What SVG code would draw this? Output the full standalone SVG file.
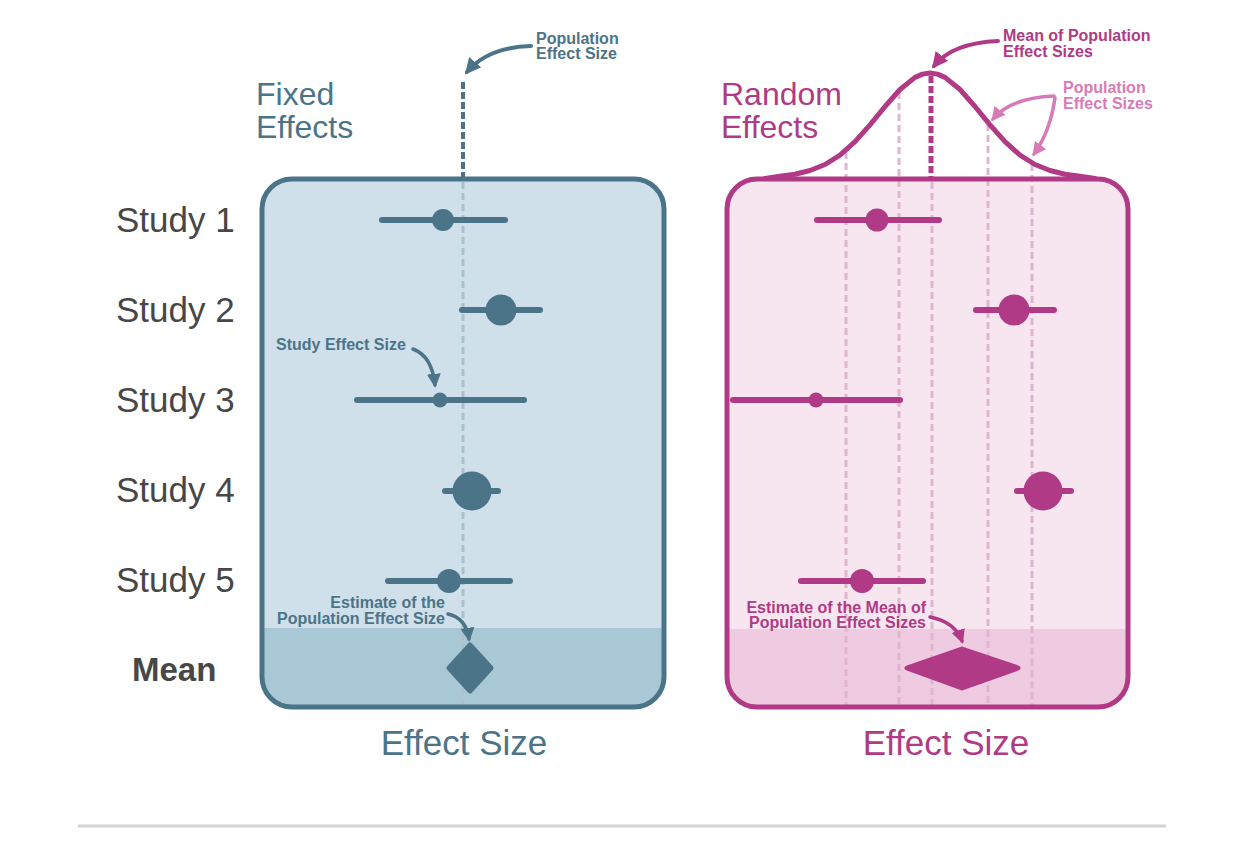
<svg xmlns="http://www.w3.org/2000/svg" width="1242" height="852" viewBox="0 0 1242 852">
<style>
.lbl{font-family:"Liberation Sans",Arial,sans-serif;font-size:35px;fill:#474747}
.meanlbl{font-family:"Liberation Sans",Arial,sans-serif;font-size:33px;font-weight:bold;fill:#474747}
.title{font-family:"Liberation Sans",Arial,sans-serif;font-size:32px}
.axis{font-family:"Liberation Sans",Arial,sans-serif;font-size:35px;text-anchor:middle}
.note{font-family:"Liberation Sans",Arial,sans-serif;font-size:16px;font-weight:bold}
.blue{fill:#4b7489}
.pink{fill:#b03a85}
.lpink{fill:#d77bb8}
.bbar{stroke:#4b7489;stroke-width:6;stroke-linecap:round;fill:none}
.pbar{stroke:#b03a85;stroke-width:6;stroke-linecap:round;fill:none}
.bdash{stroke:#a9c1cd;stroke-width:3;stroke-dasharray:7 4;fill:none}
.pdash{stroke:#dfb5cf;stroke-width:3;stroke-dasharray:7 4;fill:none}
</style>
<defs>
<marker id="ahB" viewBox="0 0 10 10" refX="8" refY="5" markerWidth="4" markerHeight="4" orient="auto" markerUnits="strokeWidth"><path d="M0,0 L10,5 L0,10 Z" fill="#4b7489"/></marker>
<marker id="ahP" viewBox="0 0 10 10" refX="8" refY="5" markerWidth="4" markerHeight="4" orient="auto" markerUnits="strokeWidth"><path d="M0,0 L10,5 L0,10 Z" fill="#b03a85"/></marker>
<marker id="ahL" viewBox="0 0 10 10" refX="8" refY="5" markerWidth="4" markerHeight="4" orient="auto" markerUnits="strokeWidth"><path d="M0,0 L10,5 L0,10 Z" fill="#d77bb8"/></marker>
</defs>
<rect width="1242" height="852" fill="#ffffff"/>

<g id="row-labels">
<text class="lbl" x="116" y="232">Study 1</text>
<text class="lbl" x="116" y="322">Study 2</text>
<text class="lbl" x="116" y="412">Study 3</text>
<text class="lbl" x="116" y="502">Study 4</text>
<text class="lbl" x="116" y="592">Study 5</text>
<text class="meanlbl" x="132" y="681">Mean</text>
</g>

<g id="fixed-panel">
<text class="title blue" x="256" y="105">Fixed</text>
<text class="title blue" x="256" y="138">Effects</text>
<rect x="262" y="179" width="402" height="528" rx="30" fill="#cfe0ea"/>
<path d="M262,628 H664 V677 A30,30 0 0 1 634,707 H292 A30,30 0 0 1 262,677 Z" fill="#a9c8d5"/>
<line class="bdash" x1="463" y1="182" x2="463" y2="705"/>
<line x1="463" y1="82" x2="463" y2="178" stroke="#4b7489" stroke-width="4" stroke-dasharray="7 3"/>
<g id="fixed-study1"><line class="bbar" x1="382" y1="220" x2="505" y2="220"/><circle cx="443" cy="220" r="11" fill="#4b7489"/></g>
<g id="fixed-study2"><line class="bbar" x1="462" y1="310" x2="540" y2="310"/><circle cx="501" cy="310" r="15.5" fill="#4b7489"/></g>
<g id="fixed-study3"><line class="bbar" x1="357" y1="400" x2="524" y2="400"/><circle cx="440" cy="400" r="7.5" fill="#4b7489"/></g>
<g id="fixed-study4"><line class="bbar" x1="445" y1="491" x2="498" y2="491"/><circle cx="472" cy="491" r="19.5" fill="#4b7489"/></g>
<g id="fixed-study5"><line class="bbar" x1="388" y1="581" x2="510" y2="581"/><circle cx="449" cy="581" r="12" fill="#4b7489"/></g>
<g id="fixed-mean"><polygon points="470,645 491,668 470,691 449,668" fill="#4b7489" stroke="#4b7489" stroke-width="5" stroke-linejoin="round"/></g>
<rect x="262" y="179" width="402" height="528" rx="30" fill="none" stroke="#4b7489" stroke-width="5"/>
<text class="axis blue" x="464" y="755">Effect Size</text>
<text class="note blue" x="536" y="44">Population</text>
<text class="note blue" x="536" y="59">Effect Size</text>
<text class="note blue" x="276" y="350">Study Effect Size</text>
<text class="note blue" x="445" y="608" text-anchor="end">Estimate of the</text>
<text class="note blue" x="445" y="624" text-anchor="end">Population Effect Size</text>
</g>

<g id="random-panel">
<text class="title pink" x="721" y="105">Random</text>
<text class="title pink" x="721" y="138">Effects</text>
<rect x="727" y="179" width="401" height="528" rx="30" fill="#f7e5f0"/>
<path d="M727,629 H1128 V677 A30,30 0 0 1 1098,707 H757 A30,30 0 0 1 727,677 Z" fill="#eecbe0"/>
<line class="pdash" x1="846" y1="152" x2="846" y2="705"/>
<line class="pdash" x1="899" y1="92" x2="899" y2="705"/>
<line class="pdash" x1="932" y1="182" x2="932" y2="705"/>
<line class="pdash" x1="988" y1="124" x2="988" y2="705"/>
<line class="pdash" x1="1032" y1="164" x2="1032" y2="705"/>
<line x1="931" y1="76" x2="931" y2="178" stroke="#b03a85" stroke-width="5" stroke-dasharray="7 3"/>
<polyline points="765,178.5 780,176.2 795,174.2 810,170.5 825,164.5 840,155.1 855,141.7 870,124.9 885,106.5 900,89.5 915,77.4 922.5,74.1 930,73 937.5,74.1 945,77.4 960,89.5 975,106.5 990,124.9 1005,141.7 1020,155.1 1035,164.5 1050,170.5 1065,174.2 1080,176.2 1095,178.5" fill="none" stroke="#b03a85" stroke-width="5" stroke-linejoin="round" stroke-linecap="round"/>
<g id="random-study1"><line class="pbar" x1="817" y1="220" x2="939" y2="220"/><circle cx="877" cy="220" r="11.5" fill="#b03a85"/></g>
<g id="random-study2"><line class="pbar" x1="976" y1="310" x2="1054" y2="310"/><circle cx="1014" cy="310" r="15.5" fill="#b03a85"/></g>
<g id="random-study3"><line class="pbar" x1="733" y1="400" x2="900" y2="400"/><circle cx="816" cy="400" r="7.5" fill="#b03a85"/></g>
<g id="random-study4"><line class="pbar" x1="1017" y1="491" x2="1071" y2="491"/><circle cx="1043" cy="491" r="19.5" fill="#b03a85"/></g>
<g id="random-study5"><line class="pbar" x1="801" y1="581" x2="923" y2="581"/><circle cx="862" cy="581" r="12" fill="#b03a85"/></g>
<g id="random-mean"><polygon points="907,668 962,649 1018,668 962,688" fill="#b03a85" stroke="#b03a85" stroke-width="5" stroke-linejoin="round"/></g>
<rect x="727" y="179" width="401" height="528" rx="30" fill="none" stroke="#b03a85" stroke-width="5"/>
<text class="axis pink" x="946" y="755">Effect Size</text>
<text class="note pink" x="1003" y="41">Mean of Population</text>
<text class="note pink" x="1003" y="57">Effect Sizes</text>
<text class="note lpink" x="1063" y="93">Population</text>
<text class="note lpink" x="1063" y="109">Effect Sizes</text>
<text class="note pink" x="926" y="613" text-anchor="end">Estimate of the Mean of</text>
<text class="note pink" x="926" y="628" text-anchor="end">Population Effect Sizes</text>
</g>

<g id="connectors">
<path d="M531,46 Q488,47 467,72" fill="none" stroke="#4b7489" stroke-width="4" stroke-linecap="round" marker-end="url(#ahB)"/>
<path d="M413,349 Q432,356 435,385" fill="none" stroke="#4b7489" stroke-width="3.5" stroke-linecap="round" marker-end="url(#ahB)"/>
<path d="M448,614 Q466,618 469,639" fill="none" stroke="#4b7489" stroke-width="3.5" stroke-linecap="round" marker-end="url(#ahB)"/>
<path d="M998,41 Q952,43 934,66" fill="none" stroke="#b03a85" stroke-width="4" stroke-linecap="round" marker-end="url(#ahP)"/>
<path d="M1054,96 Q1010,98 993,119" fill="none" stroke="#d77bb8" stroke-width="3.5" stroke-linecap="round" marker-end="url(#ahL)"/>
<path d="M1055,98 Q1050,132 1034,154" fill="none" stroke="#d77bb8" stroke-width="3.5" stroke-linecap="round" marker-end="url(#ahL)"/>
<path d="M930,617 Q955,622 962,641" fill="none" stroke="#b03a85" stroke-width="3.5" stroke-linecap="round" marker-end="url(#ahP)"/>
</g>

<line x1="78" y1="826" x2="1166" y2="826" stroke="#d4d4d4" stroke-width="3"/>
</svg>
